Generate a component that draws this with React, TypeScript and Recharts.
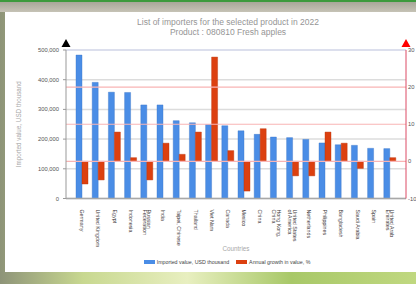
import { BarChart, Bar, XAxis, YAxis, CartesianGrid, ReferenceLine } from "recharts";

// Countries, with line breaks where the label wraps
const countries = [
  "Germany",
  "United Kingdom",
  "Egypt",
  "Indonesia",
  "Russian\nFederation",
  "India",
  "Taipei, Chinese",
  "Thailand",
  "Viet Nam",
  "Canada",
  "Mexico",
  "China",
  "Hong Kong,\nChina",
  "United States\nof America",
  "Netherlands",
  "Philippines",
  "Bangladesh",
  "Saudi Arabia",
  "Spain",
  "United Arab\nEmirates",
];

// Imported value, USD thousand
const importedValue = [
  483000, 391000, 358000, 357000, 315000, 315000, 262000, 255000, 249000, 245000,
  228000, 216000, 207000, 205000, 199000, 187000, 181000, 179000, 169000, 168000,
];

// Annual growth in value, %
const annualGrowth: (number | null)[] = [
  -6.1, -5.0, 7.9, 1.0, -5.0, 4.9, 1.9, 7.9, 28.1, 2.9,
  -8.0, 8.8, null, -3.9, -3.9, 7.9, 4.9, -1.9, null, 1.0,
];

const leftTicks = [0, 100000, 200000, 300000, 400000, 500000];
const rightTicks = [-10, 0, 10, 20, 30];
const redGrid = [0, 10, 20];

const SERIES_VALUE = "Imported value, USD thousand";
const SERIES_GROWTH = "Annual growth in value, %";

const BLUE = "#4a8de6";
const RED = "#dc4010";
const FONT = "'Liberation Sans', Arial, sans-serif";

const data = countries.map((country, i) => ({
  country,
  value: importedValue[i],
  growth: annualGrowth[i],
}));

const fmt = (v: number) => v.toLocaleString("en-US");

function XTick(props: any) {
  const { x, y, payload } = props;
  const lines = String(payload.value).split("\n");
  const lh = 4.8;
  return (
    <g transform={`translate(${x},${y + 3}) rotate(90)`}>
      <text x={0} y={0} fontSize={5.3} fill="#403838" fontFamily={FONT} textAnchor="start">
        {lines.map((l, i) => (
          <tspan key={i} x={0} y={(i - (lines.length - 1) / 2) * lh + 1.9}>
            {l}
          </tspan>
        ))}
      </text>
    </g>
  );
}

function LeftTick(props: any) {
  const { x, y, payload } = props;
  const axisX = x + 7;
  return (
    <g>
      <text x={x} y={y} dy={2} textAnchor="end" fontSize={5.8} fill="#555" fontFamily={FONT}>
        {fmt(payload.value)}
      </text>
      {payload.value === 500000 && (
        <polygon points={`${axisX - 4.5},${y - 3} ${axisX + 4.5},${y - 3} ${axisX},${y - 11}`} fill="#000" />
      )}
    </g>
  );
}

function RightTick(props: any) {
  const { x, y, payload } = props;
  const axisX = x - 2;
  return (
    <g>
      <text x={x} y={y} dy={2} textAnchor="start" fontSize={5.8} fill="#555" fontFamily={FONT}>
        {payload.value}
      </text>
      {payload.value === 30 && (
        <polygon points={`${axisX - 4.5},${y - 3} ${axisX + 4.5},${y - 3} ${axisX},${y - 11}`} fill="#f00" />
      )}
    </g>
  );
}

function YTitle(props: any) {
  const { viewBox } = props;
  const cx = viewBox.x + 18;
  const cy = viewBox.y + viewBox.height / 2;
  return (
    <text
      x={cx}
      y={cy}
      transform={`rotate(-90, ${cx}, ${cy})`}
      textAnchor="middle"
      dominantBaseline="central"
      fontSize={6.3}
      fill="#a8a8a8"
      fontFamily={FONT}
    >
      {SERIES_VALUE}
    </text>
  );
}

function XTitle(props: any) {
  const { viewBox } = props;
  return (
    <text
      x={viewBox.x + viewBox.width / 2}
      y={viewBox.y + 49.5}
      textAnchor="middle"
      dominantBaseline="central"
      fontSize={6.3}
      fill="#a8a8a8"
      fontFamily={FONT}
    >
      Countries
    </text>
  );
}

export default function App() {
  return (
    <div
      style={{
        position: "fixed",
        left: 0,
        top: 0,
        width: 416,
        height: 284,
        overflow: "hidden",
        background: "linear-gradient(90deg, #8e9478 0%, #c8d890 20%, #e8efc0 45%, #a8c868 70%, #c0d880 100%)",
        fontFamily: FONT,
      }}
    >
      <div
        style={{
          position: "absolute",
          left: 0,
          top: 0,
          width: 416,
          height: 12,
          background: "linear-gradient(180deg, #3c9a3c 0px, #3c9a3c 1.5px, #a9a89a 2.5px, #c6c3b6 12px)",
        }}
      />
      <div style={{ position: "absolute", left: 5, top: 12, width: 411, height: 260, background: "#fff" }} />
      <div
        style={{
          position: "absolute",
          left: 28,
          top: 18,
          width: 400,
          textAlign: "center",
          color: "#959595",
          fontSize: 8.5,
          lineHeight: "9.6px",
        }}
      >
        <div>List of importers for the selected product in 2022</div>
        <div>Product : 080810 Fresh apples</div>
      </div>
      <div style={{ position: "absolute", left: 0, top: 0 }}>
        <BarChart
          width={416}
          height={284}
          data={data}
          margin={{ top: 50, right: 0, bottom: 45.5, left: 0 }}
          barCategoryGap={2}
          barGap={0}
        >
          <CartesianGrid yAxisId="left" horizontal vertical={false} stroke="#dcdcdc" strokeWidth={1.5} />
          <ReferenceLine yAxisId="left" y={500000} stroke="#d8dcef" strokeWidth={1.5} />
          {redGrid.map((v) => (
            <ReferenceLine key={v} yAxisId="right" y={v} stroke="#f8b4b4" strokeWidth={1.2} />
          ))}
          <XAxis
            dataKey="country"
            interval={0}
            height={40}
            padding={{ left: 8, right: 8 }}
            axisLine={{ stroke: "#a8a8a8", strokeWidth: 1.5 }}
            tickLine={false}
            tick={<XTick />}
            label={<XTitle />}
          />
          <YAxis
            yAxisId="left"
            orientation="left"
            width={66}
            domain={[0, 500000]}
            ticks={leftTicks}
            interval={0}
            tickSize={3}
            tickMargin={4}
            axisLine={{ stroke: "#999" }}
            tickLine={{ stroke: "#999" }}
            tick={<LeftTick />}
            label={<YTitle />}
          />
          <YAxis
            yAxisId="right"
            orientation="right"
            width={10}
            domain={[-10, 30]}
            ticks={rightTicks}
            interval={0}
            tickSize={0}
            tickMargin={2}
            axisLine={{ stroke: "#dc4a64" }}
            tickLine={false}
            tick={<RightTick />}
          />
          <Bar yAxisId="left" dataKey="value" name={SERIES_VALUE} fill={BLUE} stroke="#3a74c8" strokeWidth={0.4} isAnimationActive={false} />
          <Bar yAxisId="right" dataKey="growth" name={SERIES_GROWTH} fill={RED} stroke="#b83208" strokeWidth={0.4} isAnimationActive={false} />
        </BarChart>
      </div>
      <div
        style={{
          position: "absolute",
          left: 0,
          top: 259,
          width: 454,
          display: "flex",
          justifyContent: "center",
          alignItems: "center",
          gap: 7,
          fontSize: 5.3,
          color: "#444",
        }}
      >
        {[
          [SERIES_VALUE, BLUE],
          [SERIES_GROWTH, RED],
        ].map(([name, color]) => (
          <div key={name} style={{ display: "flex", alignItems: "center", gap: 2 }}>
            <span style={{ display: "inline-block", width: 11, height: 4, background: color }} />
            <span>{name}</span>
          </div>
        ))}
      </div>
    </div>
  );
}
